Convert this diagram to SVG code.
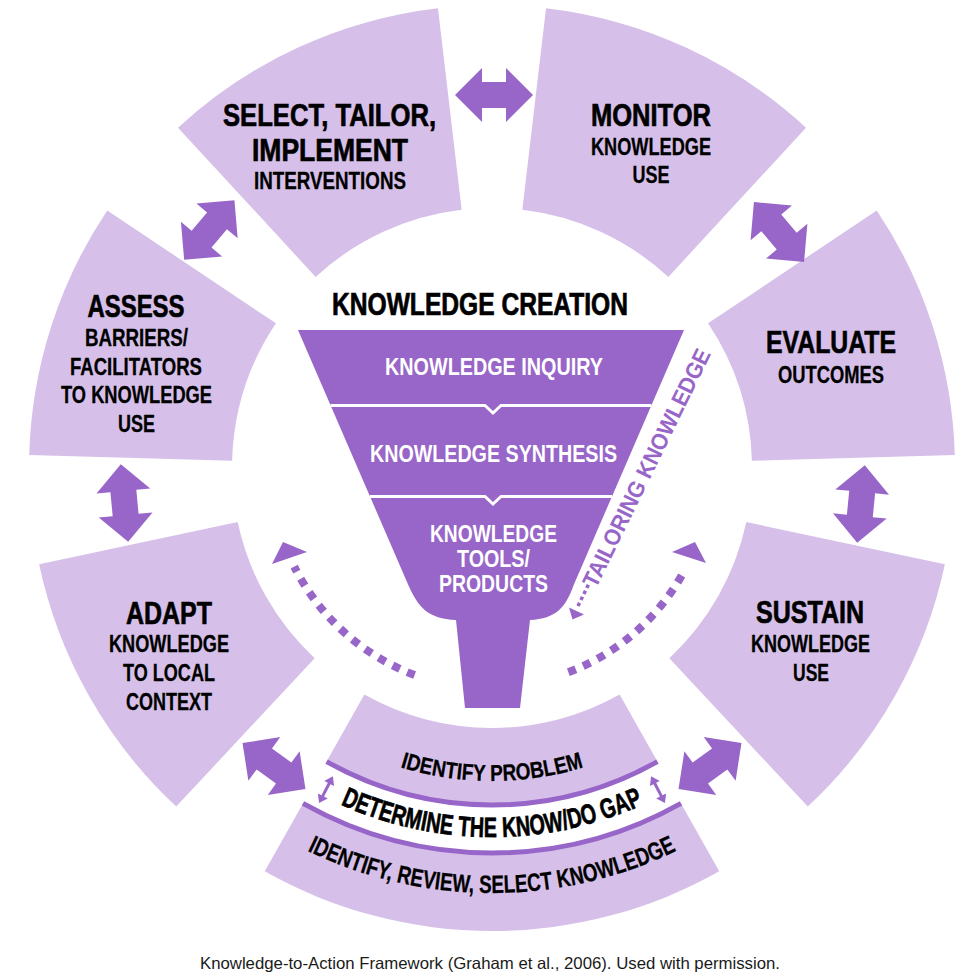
<svg xmlns="http://www.w3.org/2000/svg" width="980" height="980" viewBox="0 0 980 980">
<defs>
<style>
.seg{fill:#d6c0e9}
.dk{fill:#9866c8}
.t{font-family:"Liberation Sans Narrow","Liberation Sans",Arial,sans-serif;font-weight:bold;text-anchor:middle;fill:#000}
.h{font-size:32px;stroke:#000;stroke-width:0.7}
.s{font-size:23px;stroke:#000;stroke-width:0.3}
.f{font-size:24px;fill:#fff}
.ln{fill:none;stroke:#9866c8;stroke-width:5}
.sep{fill:none;stroke:#fff;stroke-width:3}
.dots{fill:none;stroke:#9866c8;stroke-width:8;stroke-dasharray:8 8}
</style>
<polygon id="dbl" points="-39,0 -12,-27 -12,-13 12,-13 12,-27 39,0 12,27 12,13 -12,13 -12,27"/>
<polygon id="sm" points="0,-15 5.5,-7 1.5,-7 1.5,7 5.5,7 0,15 -5.5,7 -1.5,7 -1.5,-7 -5.5,-7"/>
<path id="arcA" d="M312.47,724.39 A313,313 0 0 0 671.53,724.39"/>
<path id="arcB" d="M280.35,770.27 A369,369 0 0 0 703.65,770.27"/>
<path id="arcC" d="M248.23,816.14 A425,425 0 0 0 735.77,816.14"/>
</defs>
<rect width="980" height="980" fill="#fff"/>

<g id="node-select">
<path class="seg" d="M177.99,127.74 A463,463 0 0 1 437.98,8.16 L461.67,209.78 A260,260 0 0 0 315.67,276.92 Z"/>
<text class="t h" x="329.5" y="126" textLength="213" lengthAdjust="spacingAndGlyphs">SELECT, TAILOR,</text>
<text class="t h" x="330" y="161" textLength="156" lengthAdjust="spacingAndGlyphs">IMPLEMENT</text>
<text class="t s" x="330" y="189" textLength="152" lengthAdjust="spacingAndGlyphs">INTERVENTIONS</text>
</g>

<g id="node-monitor">
<path class="seg" d="M546.02,8.16 A463,463 0 0 1 806.01,127.74 L668.33,276.92 A260,260 0 0 0 522.33,209.78 Z"/>
<text class="t h" x="651" y="126" textLength="120" lengthAdjust="spacingAndGlyphs">MONITOR</text>
<text class="t s" x="651" y="155" textLength="120" lengthAdjust="spacingAndGlyphs">KNOWLEDGE</text>
<text class="t s" x="651" y="183" textLength="37" lengthAdjust="spacingAndGlyphs">USE</text>
</g>

<g id="node-evaluate">
<path class="seg" d="M876.74,210.43 A463,463 0 0 1 954.82,455.07 L751.90,460.74 A260,260 0 0 0 708.05,323.36 Z"/>
<text class="t h" x="831" y="353" textLength="130" lengthAdjust="spacingAndGlyphs">EVALUATE</text>
<text class="t s" x="831" y="383" textLength="106" lengthAdjust="spacingAndGlyphs">OUTCOMES</text>
</g>

<g id="node-sustain">
<path class="seg" d="M944.88,564.26 A463,463 0 0 1 807.77,806.62 L669.32,658.15 A260,260 0 0 0 746.32,522.06 Z"/>
<text class="t h" x="810" y="623" textLength="108" lengthAdjust="spacingAndGlyphs">SUSTAIN</text>
<text class="t s" x="810.5" y="652" textLength="119" lengthAdjust="spacingAndGlyphs">KNOWLEDGE</text>
<text class="t s" x="811" y="681" textLength="36" lengthAdjust="spacingAndGlyphs">USE</text>
</g>

<g id="node-adapt">
<path class="seg" d="M176.23,806.62 A463,463 0 0 1 39.12,564.26 L237.68,522.06 A260,260 0 0 0 314.68,658.15 Z"/>
<text class="t h" x="169" y="624" textLength="86" lengthAdjust="spacingAndGlyphs">ADAPT</text>
<text class="t s" x="169" y="652" textLength="120" lengthAdjust="spacingAndGlyphs">KNOWLEDGE</text>
<text class="t s" x="169" y="681" textLength="92" lengthAdjust="spacingAndGlyphs">TO LOCAL</text>
<text class="t s" x="169" y="710" textLength="86" lengthAdjust="spacingAndGlyphs">CONTEXT</text>
</g>

<g id="node-assess">
<path class="seg" d="M29.18,455.07 A463,463 0 0 1 107.26,210.43 L275.95,323.36 A260,260 0 0 0 232.10,460.74 Z"/>
<text class="t h" x="136" y="317" textLength="97" lengthAdjust="spacingAndGlyphs">ASSESS</text>
<text class="t s" x="136.5" y="346" textLength="103" lengthAdjust="spacingAndGlyphs">BARRIERS/</text>
<text class="t s" x="136" y="375" textLength="132" lengthAdjust="spacingAndGlyphs">FACILITATORS</text>
<text class="t s" x="136.5" y="403" textLength="151" lengthAdjust="spacingAndGlyphs">TO KNOWLEDGE</text>
<text class="t s" x="136.5" y="432" textLength="37" lengthAdjust="spacingAndGlyphs">USE</text>
</g>

<g id="node-knowdo-gap">
<path class="seg" d="M326.57,761.60 A337,337 0 0 0 657.43,761.60 L619.63,694.51 A260,260 0 0 1 364.37,694.51 Z"/>
<path class="seg" d="M303.00,803.42 A385,385 0 0 0 681.00,803.42 L719.29,871.37 A463,463 0 0 1 264.71,871.37 Z"/>
<path class="ln" d="M326.57,761.60 A337,337 0 0 0 657.43,761.60"/>
<path class="ln" d="M303.00,803.42 A385,385 0 0 0 681.00,803.42"/>
<use href="#sm" class="dk" transform="translate(325.97,789.68) rotate(207.3)"/>
<use href="#sm" class="dk" transform="translate(658.03,789.68) rotate(152.7)"/>
<text class="t s" font-size="23"><textPath href="#arcA" startOffset="50%" textLength="186" lengthAdjust="spacingAndGlyphs">IDENTIFY PROBLEM</textPath></text>
<text class="t h" style="font-size:28px"><textPath href="#arcB" startOffset="50%" textLength="312" lengthAdjust="spacingAndGlyphs">DETERMINE THE KNOW/DO GAP</textPath></text>
<text class="t s" style="font-size:25px"><textPath href="#arcC" startOffset="50%" textLength="382" lengthAdjust="spacingAndGlyphs">IDENTIFY, REVIEW, SELECT KNOWLEDGE</textPath></text>
</g>

<g id="node-funnel">
<text class="t h" style="font-size:30.5px" x="480" y="315" textLength="296" lengthAdjust="spacingAndGlyphs">KNOWLEDGE CREATION</text>
<path class="dk" d="M298,330 H684 L573.7,585 C566,607 556,619 530,620 L520,708 L465,708 L456,620 C428,619 418,607 408.3,585 Z"/>
<path class="sep" d="M330.6,405.5 H485 L493,413 L501,405.5 H651.4"/>
<path class="sep" d="M370,496.5 H485 L493,504 L501,496.5 H612"/>
<text class="t f" x="494" y="375" textLength="218" lengthAdjust="spacingAndGlyphs">KNOWLEDGE INQUIRY</text>
<text class="t f" x="493.5" y="462" textLength="247" lengthAdjust="spacingAndGlyphs">KNOWLEDGE SYNTHESIS</text>
<text class="t f" x="493.5" y="542" textLength="127" lengthAdjust="spacingAndGlyphs">KNOWLEDGE</text>
<text class="t f" x="493.5" y="567" textLength="73" lengthAdjust="spacingAndGlyphs">TOOLS/</text>
<text class="t f" x="493.5" y="592" textLength="109" lengthAdjust="spacingAndGlyphs">PRODUCTS</text>
</g>

<g id="connectors">
<use href="#dbl" class="dk" transform="translate(494,95)"/>
<use href="#dbl" class="dk" transform="translate(779,232) rotate(50)"/>
<use href="#dbl" class="dk" transform="translate(861,504) rotate(95.6)"/>
<use href="#dbl" class="dk" transform="translate(710,766) rotate(143.8)"/>
<use href="#dbl" class="dk" transform="translate(274,766) rotate(-143.8)"/>
<use href="#dbl" class="dk" transform="translate(124.5,503) rotate(-95.4)"/>
<use href="#dbl" class="dk" transform="translate(209.3,230) rotate(-49.9)"/>
<path class="dots" d="M414.60,675.00 A221,221 0 0 1 294.22,566.61"/>
<polygon class="dk" points="283,542 307,552 272,564"/>
<path class="dots" d="M568.35,672.19 A218,218 0 0 0 685.37,568.66"/>
<polygon class="dk" points="695,542 706,563 672,552"/>
<path d="M578,606 L589.5,582.5" fill="none" stroke="#9866c8" stroke-width="3.5" stroke-dasharray="3.5 3.2"/>
<polygon class="dk" points="572.5,619.5 569,607.5 584,614.5"/>
</g>

<text id="label-tailoring" class="t" transform="translate(596,589) rotate(-63.9)" style="font-size:23px;fill:#9866c8;text-anchor:start" textLength="262" lengthAdjust="spacingAndGlyphs">TAILORING KNOWLEDGE</text>

<text id="caption" x="490" y="969" style="font-family:'Liberation Sans Narrow','Liberation Sans',Arial,sans-serif;font-size:16.5px;text-anchor:middle;fill:#1a1a1a" textLength="580" lengthAdjust="spacingAndGlyphs">Knowledge-to-Action Framework (Graham et al., 2006). Used with permission.</text>
</svg>
